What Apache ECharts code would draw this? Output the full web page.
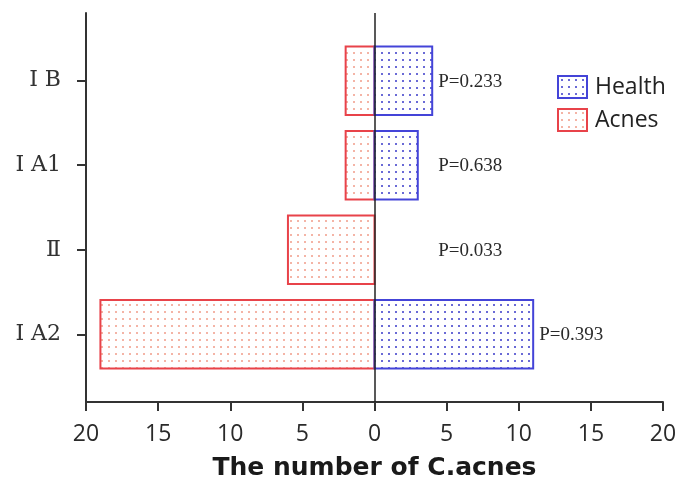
<!DOCTYPE html>
<html>
<head>
<meta charset="utf-8">
<script src="https://cdn.jsdelivr.net/npm/echarts@6/dist/echarts.min.js"></script>
<style>
  html, body { margin: 0; padding: 0; background: #fff; }
  #chart { width: 678px; height: 479px; }
</style>
</head>
<body>
<div id="chart"></div>
<script>
// ---- data ----
const categories = ['Ⅰ A2', 'Ⅱ', 'Ⅰ A1', 'Ⅰ B'];
const acnes = [19, 6, 2, 2];
const health = [11, 0, 3, 4];
const pLabels = ['P=0.393', 'P=0.033', 'P=0.638', 'P=0.233'];
const xTickValues = [-20, -15, -10, -5, 0, 5, 10, 15, 20];
const seriesNames = ['Health', 'Acnes'];

// ---- patterns ----
function dotPattern(dotColor) {
  const c = document.createElement('canvas');
  c.width = 7; c.height = 7;
  const g = c.getContext('2d');
  g.fillStyle = '#ffffff';
  g.fillRect(0, 0, 7, 7);
  g.fillStyle = dotColor;
  g.fillRect(3, 3, 2, 2);
  return { image: c, repeat: 'repeat' };
}
const healthFill = dotPattern('#6a6ad6');
const acnesFill = dotPattern('#f4b4a6');
const healthStroke = '#4444d8';
const acnesStroke = '#e8434a';
const barSpan = 0.81;
const serifFont = '"DejaVu Serif", "Liberation Serif", serif';

const chart = echarts.init(document.getElementById('chart'), null, { renderer: 'canvas' });

const option = {
  animation: false,
  backgroundColor: '#ffffff',
  grid: { left: 86, right: 15, top: 13, bottom: 77, containLabel: false, outerBoundsMode: 'none' },
  legend: {
    orient: 'vertical',
    left: 557,
    top: 75,
    padding: 0,
    itemWidth: 29,
    itemHeight: 22,
    itemGap: 9,
    icon: 'rect',
    textStyle: { fontSize: 23, fontFamily: 'Open Sans', color: '#222', padding: [0, 0, 0, 3] },
    data: [
      { name: seriesNames[0], itemStyle: { color: healthFill, borderColor: healthStroke, borderWidth: 2 } },
      { name: seriesNames[1], itemStyle: { color: acnesFill, borderColor: acnesStroke, borderWidth: 2 } }
    ]
  },
  xAxis: {
    type: 'value',
    min: -20,
    max: 20,
    interval: 5,
    name: 'The number of C.acnes',
    nameLocation: 'middle',
    nameGap: 54,
    nameTextStyle: { fontSize: 25, fontWeight: 'bold', fontFamily: 'DejaVu Sans', color: '#1a1a1a' },
    axisLine: { show: true, lineStyle: { color: '#333', width: 2 } },
    axisTick: { show: true, length: 9, lineStyle: { color: '#333', width: 2 } },
    axisLabel: {
      margin: 21,
      fontSize: 23,
      fontFamily: 'Open Sans',
      color: '#2a2a2a',
      formatter: v => String(Math.abs(v))
    },
    splitLine: { show: false }
  },
  yAxis: {
    type: 'value',
    min: 0.2,
    max: 4.8,
    axisLine: { show: true, onZero: false, lineStyle: { color: '#333', width: 2 } },
    axisTick: { show: true, length: 9, customValues: [1, 2, 3, 4], lineStyle: { color: '#333', width: 2 } },
    axisLabel: {
      customValues: [1, 2, 3, 4],
      margin: 25,
      fontSize: 22,
      fontFamily: serifFont,
      color: '#333',
      formatter: v => categories[Math.round(v) - 1] || ''
    },
    splitLine: { show: false }
  },
  series: [
    {
      name: seriesNames[1],
      type: 'custom',
      itemStyle: { color: acnesFill, borderColor: acnesStroke, borderWidth: 2 },
      encode: { x: 0, y: 1 },
      data: acnes.map((v, i) => [-v, i + 1]),
      renderItem: function (params, api) {
        const v = api.value(0), y = api.value(1);
        const p0 = api.coord([v, y]);
        const p1 = api.coord([0, y]);
        const h = api.size([0, barSpan])[1];
        return {
          type: 'rect',
          shape: { x: p0[0], y: p0[1] - h / 2, width: p1[0] - p0[0], height: h },
          style: { fill: acnesFill, stroke: acnesStroke, lineWidth: 2 }
        };
      }
    },
    {
      name: seriesNames[0],
      type: 'custom',
      itemStyle: { color: healthFill, borderColor: healthStroke, borderWidth: 2 },
      encode: { x: 0, y: 1 },
      data: health.map((v, i) => [v, i + 1, pLabels[i]]),
      renderItem: function (params, api) {
        const v = api.value(0), y = api.value(1);
        const i = params.dataIndex;
        const p0 = api.coord([0, y]);
        const p1 = api.coord([v, y]);
        const h = api.size([0, barSpan])[1];
        const children = [];
        if (v > 0) {
          children.push({
            type: 'rect',
            shape: { x: p0[0], y: p0[1] - h / 2, width: p1[0] - p0[0], height: h },
            style: { fill: healthFill, stroke: healthStroke, lineWidth: 2 }
          });
        }
        const lp = api.coord([Math.max(v, 4), y]);
        children.push({
          type: 'text',
          x: lp[0] + 6,
          y: lp[1] + 1,
          style: {
            text: pLabels[i],
            font: '19px "Liberation Serif", "DejaVu Serif", serif',
            fill: '#2a2a2a',
            align: 'left',
            verticalAlign: 'middle'
          }
        });
        return { type: 'group', children: children };
      },
      markLine: {
        silent: true,
        symbol: 'none',
        label: { show: false },
        lineStyle: { color: '#222', width: 1.5, type: 'solid' },
        data: [{ xAxis: 0 }]
      }
    }
  ]
};
chart.setOption(option);
</script>
</body>
</html>
